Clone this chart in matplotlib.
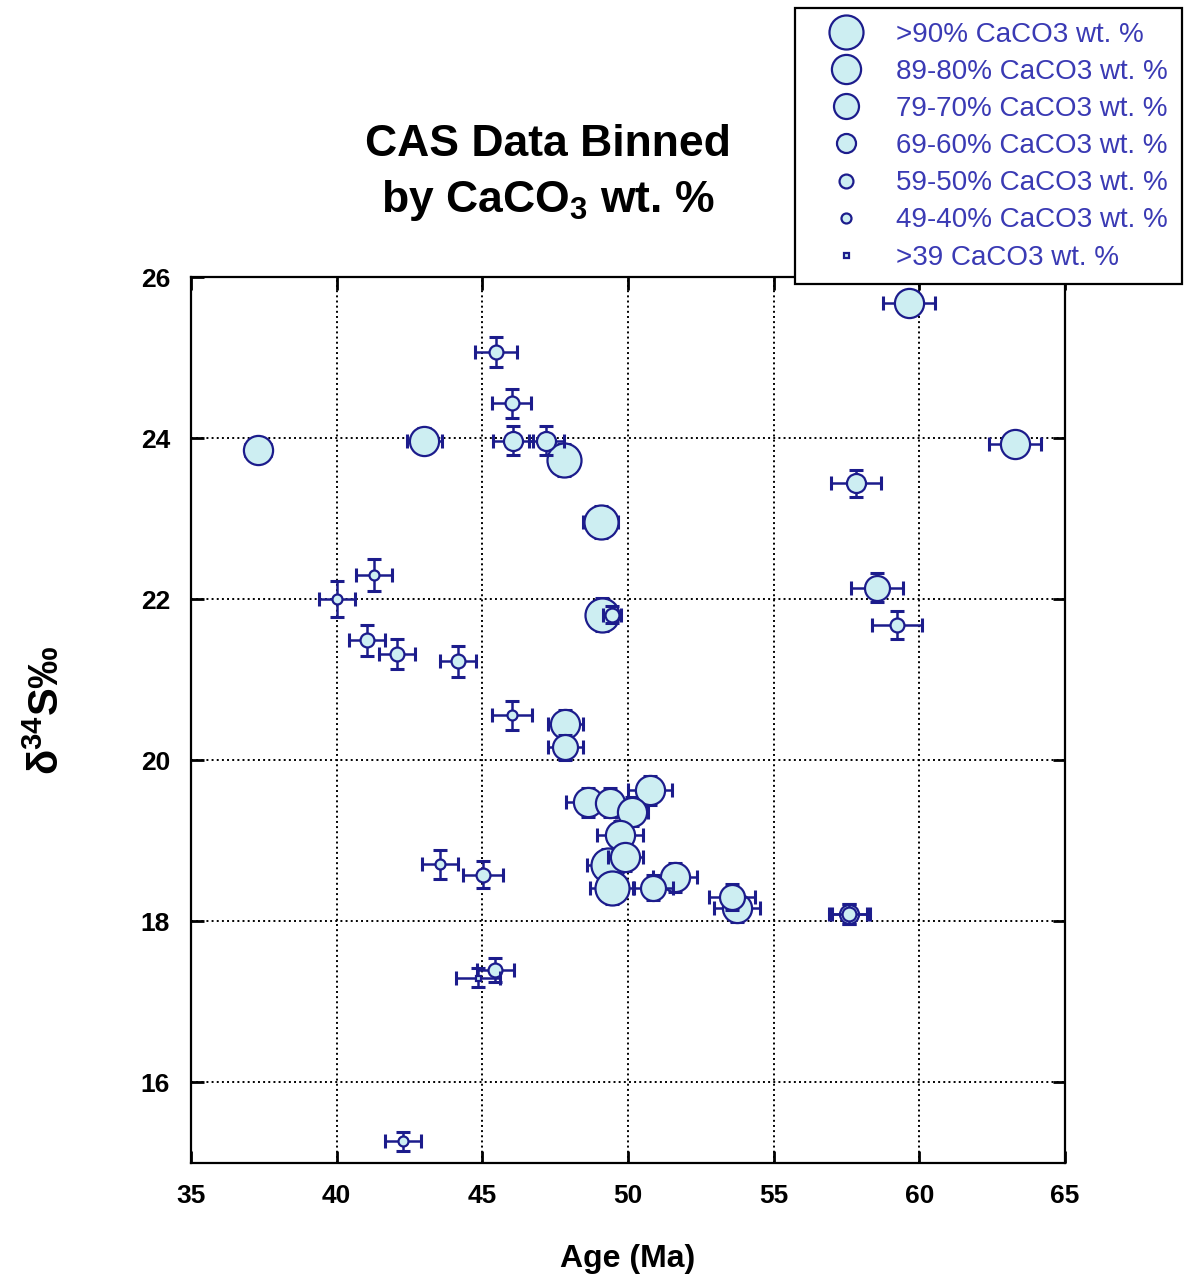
import matplotlib
matplotlib.use("Agg")
import matplotlib.pyplot as plt
from matplotlib.lines import Line2D

plt.rcParams["font.family"] = ["Liberation Sans", "DejaVu Sans"]
plt.rcParams["mathtext.fontset"] = "custom"
plt.rcParams["mathtext.rm"] = "Liberation Sans:bold"
plt.rcParams["mathtext.bf"] = "Liberation Sans:bold"
plt.rcParams["mathtext.default"] = "bf"

# CaCO3 bins, largest first
bin_labels = [">90% CaCO3 wt. %", "89-80% CaCO3 wt. %", "79-70% CaCO3 wt. %",
              "69-60% CaCO3 wt. %", "59-50% CaCO3 wt. %", "49-40% CaCO3 wt. %",
              ">39 CaCO3 wt. %"]

age_bins = [
    [47.8, 49.07, 49.1, 49.3, 49.45],
    [37.3, 43.0, 47.84, 48.63, 49.38, 50.76, 50.14, 49.73, 49.9, 51.62, 53.74,
     59.65, 63.29],
    [47.84, 50.86, 53.57, 58.55],
    [46.05, 47.2, 57.83, 57.59],
    [45.47, 46.0, 49.45, 41.04, 42.07, 44.17, 45.02, 45.44, 59.24, 57.59],
    [41.28, 40.0, 46.02, 43.55, 42.28],
    [44.85],
]
d34s_bins = [
    [23.73, 22.96, 21.81, 18.7, 18.41],
    [23.85, 23.97, 20.45, 19.48, 19.47, 19.63, 19.36, 19.07, 18.8, 18.55, 18.17,
     25.68, 23.93],
    [20.16, 18.42, 18.3, 22.14],
    [23.97, 23.97, 23.44, 18.09],
    [25.07, 24.43, 21.81, 21.49, 21.32, 21.23, 18.58, 17.4, 21.68, 18.09],
    [22.3, 22.0, 20.56, 18.71, 15.27],
    [17.3],
]
age_err_bins = [
    [0.5, 0.6, 0.5, 0.7, 0.75],
    [0.45, 0.6, 0.6, 0.75, 0.7, 0.75, 0.55, 0.8, 0.6, 0.75, 0.8, 0.89, 0.89],
    [0.6, 0.7, 0.8, 0.89],
    [0.7, 0.6, 0.86, 0.7],
    [0.72, 0.66, 0.3, 0.62, 0.62, 0.62, 0.69, 0.63, 0.86, 0.6],
    [0.63, 0.62, 0.69, 0.63, 0.63],
    [0.75],
]
d34s_err_bins = [
    [0.2, 0.2, 0.2, 0.2, 0.2],
    [0.1, 0.15, 0.18, 0.18, 0.18, 0.18, 0.18, 0.18, 0.18, 0.18, 0.18, 0.15, 0.15],
    [0.16, 0.16, 0.16, 0.18],
    [0.18, 0.18, 0.17, 0.12],
    [0.19, 0.18, 0.1, 0.19, 0.19, 0.19, 0.17, 0.15, 0.17, 0.12],
    [0.2, 0.22, 0.18, 0.18, 0.12],
    [0.12],
]
marker_sizes = [24.5, 21, 18, 13.7, 10, 7.2, 3.6]

face = "#cdeef2"
edge = "#1c1c8c"
text_blue = "#3a3ab4"

fig = plt.figure(figsize=(11.88, 12.79), dpi=100)
ax = fig.add_axes([0.1608, 0.0907, 0.7357, 0.6927])

handles = []
for i, label in enumerate(bin_labels):
    ax.errorbar(age_bins[i], d34s_bins[i], xerr=age_err_bins[i], yerr=d34s_err_bins[i],
                fmt="none", ecolor=edge, elinewidth=1.8, capsize=5, capthick=2.2,
                zorder=2 + 2 * i)
    marker = "s" if i == 6 else "o"
    ax.plot(age_bins[i], d34s_bins[i], linestyle="none", marker=marker,
            markersize=marker_sizes[i], markerfacecolor=face, markeredgecolor=edge,
            markeredgewidth=1.6, zorder=3 + 2 * i)
    handles.append(Line2D([], [], linestyle="none", marker=marker,
                          markersize=marker_sizes[i], markerfacecolor=face,
                          markeredgecolor=edge, markeredgewidth=1.6))

ax.set_xlim(35, 65)
ax.set_ylim(15, 26)
ax.set_xticks(range(35, 66, 5))
ax.set_yticks(range(16, 27, 2))
ax.grid(True, color="black", linestyle=":", linewidth=1.4)
ax.tick_params(direction="in", length=9, width=2, top=True, right=True,
               labelsize=19, pad=15)
for lab in ax.get_xticklabels() + ax.get_yticklabels():
    lab.set_fontweight("bold")
for sp in ax.spines.values():
    sp.set_linewidth(1.6)

ax.set_xlabel("Age (Ma)", fontsize=23, fontweight="bold", labelpad=26)
fig.text(0.04, 0.445, "δ$^{34}$S‰", rotation=90, fontsize=30, fontweight="bold",
         ha="center", va="center")

fig.text(0.461, 0.887, "CAS Data Binned", fontsize=32, fontweight="bold",
         ha="center", va="center")
fig.text(0.461, 0.843, "by CaCO$_3$ wt. %", fontsize=32, fontweight="bold",
         ha="center", va="center")

leg = fig.legend(handles, bin_labels, loc="upper left",
                 bbox_to_anchor=(795 / 1188, 1 - 8 / 1279), frameon=True,
                 fancybox=False, edgecolor="black", framealpha=1, fontsize=20,
                 labelcolor=text_blue, borderpad=0.5, handlelength=2.7,
                 handletextpad=0.45, labelspacing=0.4, borderaxespad=0)
leg.get_frame().set_linewidth(1.6)

fig.savefig("out.png", dpi=100)
